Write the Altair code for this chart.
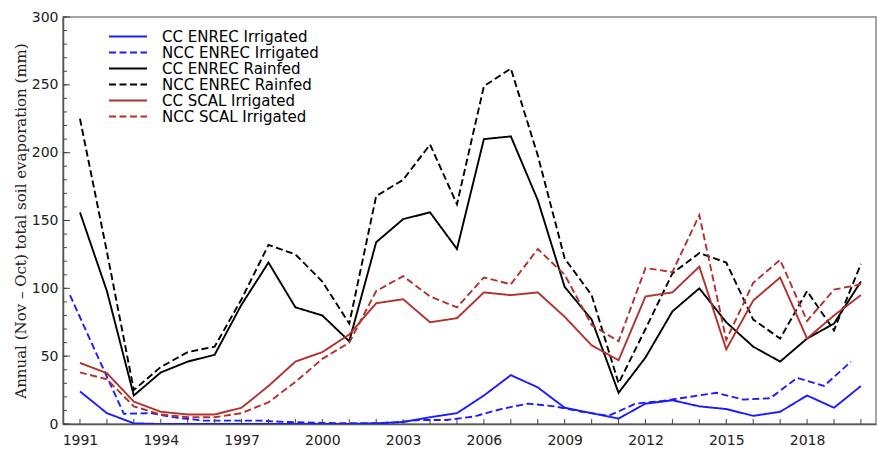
import altair as alt
import pandas as pd

YEARS = list(range(1991, 2021))
# NCC ENREC Irrigated is plotted slightly left of the calendar-year ticks in the reference
NCC_IRR_X = [1990.63, 1991.63, 1992.63, 1993.63, 1994.63, 1995.63, 1996.63, 1997.63,
             1998.63, 1999.63, 2000.63, 2001.63, 2002.63, 2003.63, 2004.63, 2005.63,
             2006.63, 2007.63, 2008.63, 2009.63, 2010.63, 2011.63, 2012.63, 2013.63,
             2014.63, 2015.63, 2016.63, 2017.63, 2018.63, 2019.63]

SERIES = ["CC ENREC Irrigated", "NCC ENREC Irrigated", "CC ENREC Rainfed",
          "NCC ENREC Rainfed", "CC SCAL Irrigated", "NCC SCAL Irrigated"]

CC_ENREC_IRR = [24, 8, 0.5, 0, 0, 0, 0, 0, 0, 0, 0, 0.5, 1.5, 5, 8, 21, 36, 27, 12, 8,
                4, 15, 17.5, 13, 11, 6, 9, 21, 12, 28]
NCC_ENREC_IRR = [95, 51, 7.5, 8, 4.5, 2.5, 2.5, 2.5, 1.5, 1, 0.5, 0.5, 1, 3, 3, 5.5, 11,
                 15, 13, 9, 6, 15, 17, 20, 23, 18, 19, 34, 28, 46]
CC_ENREC_RAIN = [156, 98, 21, 38, 46, 51, 88, 119, 86, 80, 61, 134, 151, 156, 129, 210,
                 212, 165, 101, 77, 23, 49, 83, 100, 75, 57, 46, 63, 74, 105]
NCC_ENREC_RAIN = [225, 127, 25, 42, 53, 57, 92, 132, 125, 105, 74, 168, 180, 206, 162,
                  249, 262, 198, 122, 95, 30, 70, 111, 126, 119, 77, 63, 98, 69, 118]
CC_SCAL_IRR = [45, 37.5, 16.5, 9, 7, 7, 12, 28, 46, 53, 66, 89, 92, 75, 78, 97, 95, 97,
               79, 58, 47, 94, 97, 116, 55, 91, 108, 63, 80, 95]
NCC_SCAL_IRR = [38, 33, 13, 7, 5, 5, 8, 16, 31, 48, 60, 98, 109, 94, 86, 108, 103, 129,
                110, 73, 61, 115, 112, 154, 62, 104, 121, 76, 99, 103]

COLORS = ["#1c1cff", "#1c1cff", "#000000", "#000000", "#b3312d", "#b3312d"]
DASHES = [[1, 0], [7, 3.5], [1, 0], [7, 3.5], [1, 0], [7, 3.5]]

X_LABELS = [1991, 1994, 1997, 2000, 2003, 2006, 2009, 2012, 2015, 2018]
Y_LABELS = [0, 50, 100, 150, 200, 250, 300]
Y_MINOR = list(range(0, 301, 10))

rows = []
for name, xs, vals in [
    (SERIES[0], YEARS, CC_ENREC_IRR),
    (SERIES[1], NCC_IRR_X, NCC_ENREC_IRR),
    (SERIES[2], YEARS, CC_ENREC_RAIN),
    (SERIES[3], YEARS, NCC_ENREC_RAIN),
    (SERIES[4], YEARS, CC_SCAL_IRR),
    (SERIES[5], YEARS, NCC_SCAL_IRR),
]:
    for x, v in zip(xs, vals):
        rows.append({"series": name, "year": x, "value": v})
df = pd.DataFrame(rows)

W, H = 813, 407
xscale = alt.Scale(domain=[1990.37, 2020.56], nice=False, zero=False)
yscale = alt.Scale(domain=[0, 300], nice=False)

leg = alt.Legend(
    title=None, orient="none", legendX=45, legendY=12,
    symbolType="stroke", symbolSize=1444, symbolStrokeWidth=2, clipHeight=15,
    rowPadding=-3, labelFont="DejaVu Sans", labelFontSize=15, labelColor="#000000",
    labelOffset=14, padding=0, labelLimit=300, symbolOpacity=1,
)

lines = alt.Chart(df).mark_line(strokeWidth=1.9, clip=True).encode(
    x=alt.X("year:Q", scale=xscale, axis=alt.Axis(
        orient="bottom", values=X_LABELS, format="d", ticks=False, labelPadding=9,
        labelFontSize=14, labelFont="DejaVu Sans", labelColor="#222222",
        domainColor="#555555", domainWidth=1.5, grid=False, title=None)),
    y=alt.Y("value:Q", scale=yscale, axis=alt.Axis(
        orient="left", values=Y_LABELS, ticks=False, labelPadding=5,
        labelFontSize=14, labelFont="DejaVu Sans", labelColor="#222222",
        domainColor="#555555", domainWidth=1.5, grid=False,
        title="Annual (Nov – Oct) total soil evaporation (mm)",
        titleFont="DejaVu Serif", titleFontSize=15, titleFontWeight="normal",
        titleColor="#222222", titlePadding=3)),
    color=alt.Color("series:N", scale=alt.Scale(domain=SERIES, range=COLORS), legend=leg),
    strokeDash=alt.StrokeDash("series:N", scale=alt.Scale(domain=SERIES, range=DASHES), legend=leg),
)

# inward tick marks along the bottom (every year) and left (every 10, longer every 50)
xticks = alt.Chart(pd.DataFrame({"year": YEARS})).mark_rule(
    color="#444444", strokeWidth=1
).encode(
    x=alt.X("year:Q", scale=xscale, axis=None),
    y=alt.value(H), y2=alt.value(H - 5),
)

yminor = alt.Chart(pd.DataFrame({"v": Y_MINOR})).mark_rule(
    color="#444444", strokeWidth=1
).encode(
    y=alt.Y("v:Q", scale=yscale, axis=None),
    x=alt.value(0), x2=alt.value(4),
)

ymajor = alt.Chart(pd.DataFrame({"v": Y_LABELS})).mark_rule(
    color="#444444", strokeWidth=1
).encode(
    y=alt.Y("v:Q", scale=yscale, axis=None),
    x=alt.value(0), x2=alt.value(7),
)

chart = alt.layer(lines, xticks, yminor, ymajor).resolve_axis(
    x="independent", y="independent"
).properties(
    width=W, height=H,
    padding={"left": 63, "top": 17, "right": 2, "bottom": 30},
    autosize=alt.AutoSizeParams(type="none"),
    background="white",
).configure_view(stroke="#888888", strokeWidth=1.5)

chart.save("out.html", embed_options={"renderer": "svg", "actions": False})
